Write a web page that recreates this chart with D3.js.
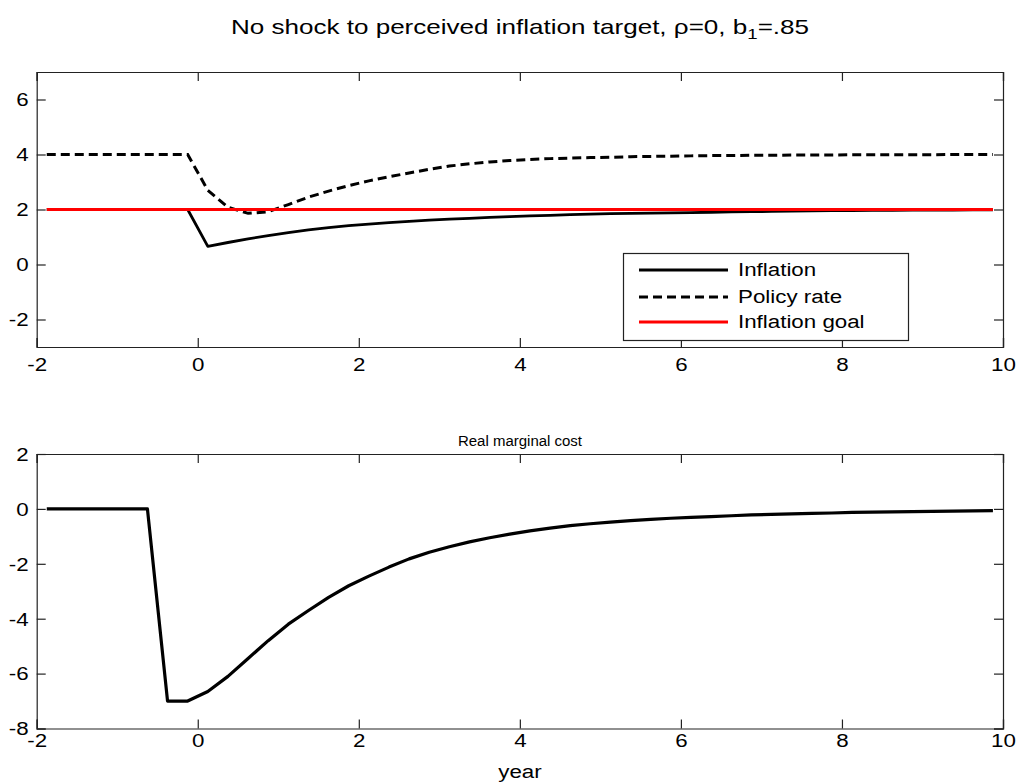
<!DOCTYPE html>
<html>
<head>
<meta charset="utf-8">
<script src="https://cdn.jsdelivr.net/npm/d3@7"></script>
<style>
  html, body { margin: 0; padding: 0; background: #fff; }
  svg { display: block; }
  text { font-family: "Liberation Sans", Arial, Helvetica, sans-serif; fill: #000; }
</style>
</head>
<body>
<svg id="chart" width="1021" height="784"></svg>
<script>
// Quarterly time grid (years), mid-quarter points
const years = [
  -1.875, -1.625, -1.375, -1.125, -0.875, -0.625, -0.375, -0.125,
  0.125, 0.375, 0.625, 0.875, 1.125, 1.375, 1.625, 1.875,
  2.125, 2.375, 2.625, 2.875, 3.125, 3.375, 3.625, 3.875,
  4.125, 4.375, 4.625, 4.875, 5.125, 5.375, 5.625, 5.875,
  6.125, 6.375, 6.625, 6.875, 7.125, 7.375, 7.625, 7.875,
  8.125, 8.375, 8.625, 8.875, 9.125, 9.375, 9.625, 9.875
];

const inflation = [
  2, 2, 2, 2, 2, 2, 2, 2,
  0.66, 0.80, 0.93, 1.05, 1.16, 1.26, 1.34, 1.41,
  1.47, 1.52, 1.57, 1.61, 1.65, 1.68, 1.71, 1.74,
  1.77, 1.79, 1.81, 1.83, 1.85, 1.86, 1.87, 1.88,
  1.89, 1.90, 1.91, 1.92, 1.93, 1.94, 1.95, 1.96,
  1.96, 1.97, 1.97, 1.98, 1.98, 1.98, 1.99, 1.99
];

const policyRate = [
  4, 4, 4, 4, 4, 4, 4, 4,
  2.70, 2.08, 1.86, 1.92, 2.18, 2.45, 2.67, 2.87,
  3.04, 3.19, 3.33, 3.46, 3.58, 3.66, 3.73, 3.78,
  3.82, 3.85, 3.87, 3.89, 3.90, 3.92, 3.93, 3.94,
  3.95, 3.96, 3.96, 3.97, 3.97, 3.98, 3.98, 3.98,
  3.99, 3.99, 3.99, 3.99, 3.99, 4.00, 4.00, 4.00
];

const inflationGoal = [
  2, 2, 2, 2, 2, 2, 2, 2,
  2, 2, 2, 2, 2, 2, 2, 2,
  2, 2, 2, 2, 2, 2, 2, 2,
  2, 2, 2, 2, 2, 2, 2, 2,
  2, 2, 2, 2, 2, 2, 2, 2,
  2, 2, 2, 2, 2, 2, 2, 2
];

const marginalCost = [
  0, 0, 0, 0, 0, 0, -7, -7,
  -6.65, -6.10, -5.45, -4.80, -4.20, -3.70, -3.22, -2.80,
  -2.45, -2.12, -1.82, -1.58, -1.38, -1.20, -1.05, -0.92,
  -0.80, -0.70, -0.61, -0.54, -0.48, -0.43, -0.38, -0.34,
  -0.31, -0.28, -0.25, -0.22, -0.20, -0.18, -0.16, -0.15,
  -0.13, -0.12, -0.11, -0.10, -0.09, -0.08, -0.07, -0.06
];

const xTicks = [-2, 0, 2, 4, 6, 8, 10];
const topYTicks = [-2, 0, 2, 4, 6];
const bottomYTicks = [-8, -6, -4, -2, 0, 2];
const legendLabels = ["Inflation", "Policy rate", "Inflation goal"];

const titleText = "No shock to perceived inflation target, ";
const bottomTitle = "Real marginal cost";
const xLabel = "year";

// Glyphs in this figure are drawn horizontally widened
const STRETCH = 1.24;

const svg = d3.select("#chart");

const L = 36.7, R = 1003;
const x = d3.scaleLinear().domain([-2, 10]).range([L, R]);
const yTop = d3.scaleLinear().domain([-3, 7]).range([347, 72]);
const yBot = d3.scaleLinear().domain([-8, 2]).range([728.5, 454]);

// plain hyphen-minus tick labels
const fmt = d => String(d);

function stretchText(sel, factor) {
  sel.each(function () {
    const w = this.getComputedTextLength();
    d3.select(this)
      .attr("textLength", w * factor)
      .attr("lengthAdjust", "spacingAndGlyphs");
  });
}

function drawPanel(y, yTicks, id, xLabelOffset) {
  const g = svg.append("g");
  const [y0, y1] = y.range();
  const tick = 9;

  g.append("clipPath").attr("id", id)
    .append("rect")
    .attr("x", L).attr("y", y1)
    .attr("width", R - L).attr("height", y0 - y1);

  // x axis (bottom) with inward ticks, plus mirrored top ticks
  const ax = g.append("g").attr("transform", `translate(0,${y0})`)
    .call(d3.axisBottom(x).tickValues(xTicks).tickSize(-tick).tickFormat(fmt));
  g.append("g").attr("transform", `translate(0,${y1})`)
    .call(d3.axisTop(x).tickValues(xTicks).tickSize(-tick).tickFormat(""));
  const ay = g.append("g").attr("transform", `translate(${L},0)`)
    .call(d3.axisLeft(y).tickValues(yTicks).tickSize(-tick).tickFormat(fmt));
  g.append("g").attr("transform", `translate(${R},0)`)
    .call(d3.axisRight(y).tickValues(yTicks).tickSize(-tick).tickFormat(""));

  g.selectAll(".domain").attr("stroke", "#222").attr("stroke-width", 1.2);
  g.selectAll(".tick line").attr("stroke", "#222").attr("stroke-width", 1.2);
  g.selectAll(".tick text")
    .attr("font-size", 18)
    .attr("font-family", "Liberation Sans, Arial, sans-serif")
    .attr("fill", "#000")
    .classed("wide", true);
  ay.selectAll(".tick text").attr("x", -8).attr("dy", "0.35em");
  ax.selectAll(".tick text").attr("y", xLabelOffset).attr("dy", "0.35em");
  return g;
}

// ---- top panel ----
const gTop = drawPanel(yTop, topYTicks, "clipTop", 18);
const lineTop = d3.line().x((d, i) => x(years[i])).y(d => yTop(d));
const topLayer = gTop.append("g").attr("clip-path", "url(#clipTop)");

topLayer.append("path").datum(inflation)
  .attr("d", lineTop).attr("fill", "none")
  .attr("stroke", "#000").attr("stroke-width", 2.8)
  .attr("stroke-linejoin", "round");
topLayer.append("path").datum(policyRate)
  .attr("d", lineTop).attr("fill", "none")
  .attr("stroke", "#000").attr("stroke-width", 3)
  .attr("stroke-dasharray", "9,5");
topLayer.append("path").datum(inflationGoal)
  .attr("d", lineTop).attr("fill", "none")
  .attr("stroke", "#ff0000").attr("stroke-width", 3);

// legend
const lg = svg.append("g");
lg.append("rect")
  .attr("x", 623.5).attr("y", 253.5).attr("width", 285).attr("height", 87)
  .attr("fill", "#fff").attr("stroke", "#222").attr("stroke-width", 1.2);
const legendStyles = [
  { stroke: "#000", dash: null, w: 3 },
  { stroke: "#000", dash: "9,5", w: 3 },
  { stroke: "#ff0000", dash: null, w: 3 }
];
const legendRows = [270, 297, 322];
legendLabels.forEach((lab, i) => {
  lg.append("line")
    .attr("x1", 639).attr("x2", 728)
    .attr("y1", legendRows[i]).attr("y2", legendRows[i])
    .attr("stroke", legendStyles[i].stroke)
    .attr("stroke-width", legendStyles[i].w)
    .attr("stroke-dasharray", legendStyles[i].dash);
  lg.append("text").classed("wide", true)
    .attr("x", 738).attr("y", legendRows[i]).attr("dy", "0.35em")
    .attr("font-size", 18)
    .text(lab);
});

// ---- bottom panel ----
const gBot = drawPanel(yBot, bottomYTicks, "clipBot", 12);
const lineBot = d3.line().x((d, i) => x(years[i])).y(d => yBot(d));
gBot.append("g").attr("clip-path", "url(#clipBot)")
  .append("path").datum(marginalCost)
  .attr("d", lineBot).attr("fill", "none")
  .attr("stroke", "#000").attr("stroke-width", 3.2)
  .attr("stroke-linejoin", "round");

// ---- titles ----
const t = svg.append("text").classed("wide", true)
  .attr("x", 520).attr("y", 34)
  .attr("text-anchor", "middle")
  .attr("font-size", 21);
t.append("tspan").text(titleText + "\u03C1=0, b");
t.append("tspan").attr("font-size", 15).attr("dy", 5).text("1");
t.append("tspan").attr("dy", -5).text("=.85");

svg.append("text").classed("sub", true)
  .attr("x", 520).attr("y", 446)
  .attr("text-anchor", "middle")
  .attr("font-size", 14)
  .text(bottomTitle);

svg.append("text").classed("wide", true)
  .attr("x", 520).attr("y", 778)
  .attr("text-anchor", "middle")
  .attr("font-size", 18)
  .text(xLabel);

// widen text glyphs
svg.selectAll("text.wide").call(stretchText, STRETCH);
svg.selectAll("text.sub").call(stretchText, 1.07);
</script>
</body>
</html>
